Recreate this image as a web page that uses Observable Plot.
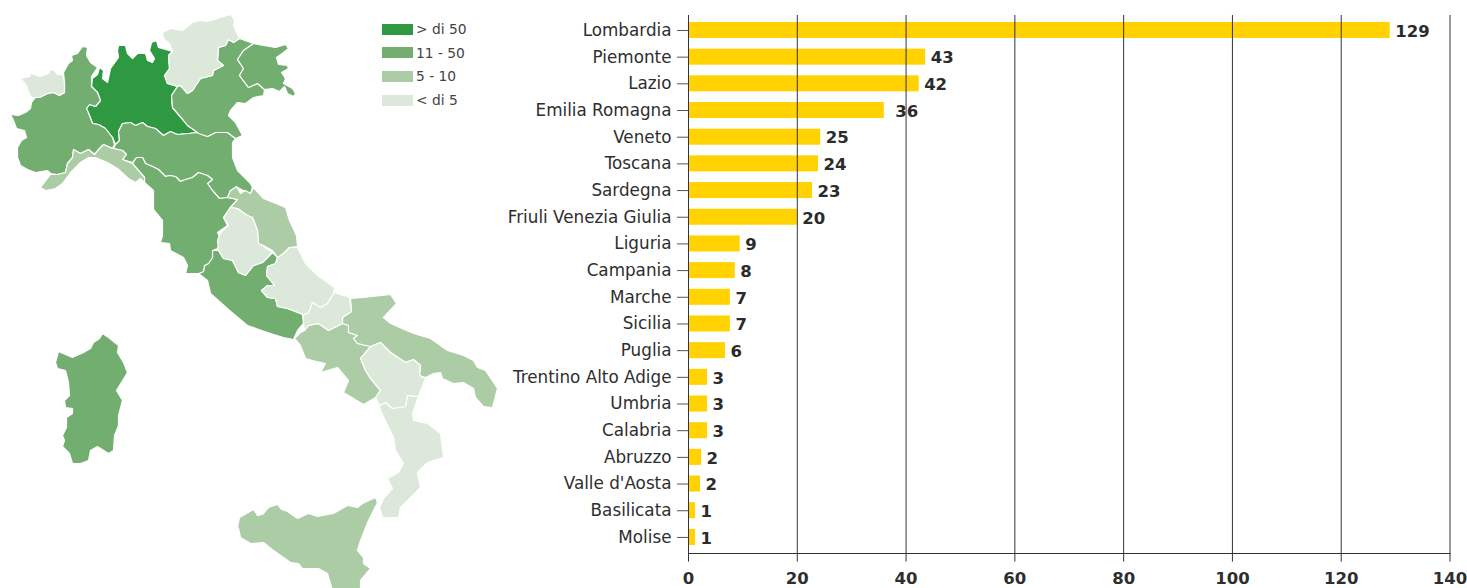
<!DOCTYPE html>
<html lang="it">
<head>
<meta charset="utf-8">
<script src="https://cdn.jsdelivr.net/npm/d3@7"></script>
<script src="https://cdn.jsdelivr.net/npm/@observablehq/plot@0.6"></script>
<style>
  html, body { margin: 0; padding: 0; background: #fff; }
  #page { position: relative; width: 1467px; height: 588px; overflow: hidden; font-family: "DejaVu Sans", sans-serif; }
  #page svg { position: absolute; left: 0; top: 0; background: transparent; }
  #legend { position: absolute; left: 382px; top: 17px; }
  .row { position: absolute; left: 0; width: 100px; height: 24px; display: flex; align-items: center; font-size: 13.8px; color: #444; white-space: nowrap; }
  .sw { width: 31px; height: 11px; margin-right: 3px; flex: none; }
</style>
</head>
<body>
<div id="page"></div>
<script>
// Printed data
const regions = ["Lombardia","Piemonte","Lazio","Emilia Romagna","Veneto","Toscana","Sardegna","Friuli Venezia Giulia","Liguria","Campania","Marche","Sicilia","Puglia","Trentino Alto Adige","Umbria","Calabria","Abruzzo","Valle d'Aosta","Basilicata","Molise"];
const printedValues = [129,43,42,36,25,24,23,20,9,8,7,7,6,3,3,3,2,2,1,1];
const barLengths = [129,43.6,42.4,36,24.3,23.9,22.8,20,9.5,8.6,7.7,7.7,6.8,3.5,3.5,3.5,2.4,2.2,1.3,1.3];
const xTicks = [0,20,40,60,80,100,120,140];
const legendLabels = ["> di 50","11 - 50","5 - 10","< di 5"];
const classBreaks = [5,11,51];
const classColors = ["#dbe8da","#72ae70","#abcca5","#2e9940"];

// Region outlines
const outlineValleAosta = [[20,78],[29,76],[31,72],[33,74],[40,76],[48,73],[50,69],[54,70],[57,74],[62,74],[64,82],[64,92],[59,95],[53,92],[47,93],[39,97],[31,97],[28,92],[26,85]];
const outlinePiemonte = [[82,46],[87,47],[86,55],[90,62],[97,67],[91,76],[91,86],[97,92],[100,100],[95,106],[89,104],[86,108],[89,115],[92,123],[98,124],[105,128],[112,137],[114,144],[112,148],[103,144],[99,148],[94,154],[88,149],[80,153],[73,149],[72,157],[67,163],[65,172],[57,174],[50,173],[47,170],[35,172],[27,169],[20,165],[17,157],[17,147],[21,140],[26,137],[24,130],[16,128],[13,120],[10,114],[18,115],[25,112],[30,108],[31,102],[35,97],[39,97],[47,93],[53,92],[59,95],[64,92],[64,82],[63,72],[68,63],[72,60],[71,55],[77,53]];
const outlineLombardia = [[118,45],[125,45],[127,53],[132,58],[137,53],[145,53],[147,60],[152,62],[154,58],[149,50],[151,42],[156,40],[158,47],[172,51],[168,55],[169,68],[164,75],[167,83],[177,86],[171,95],[172,107],[183,120],[187,125],[197,132],[188,133],[177,134],[170,131],[163,135],[155,128],[147,126],[142,122],[135,125],[130,122],[122,123],[118,131],[119,140],[115,144],[112,137],[105,128],[98,124],[92,123],[89,115],[86,108],[89,104],[95,106],[100,100],[97,92],[91,86],[92,78],[97,74],[99,67],[103,70],[102,78],[107,82],[110,68],[118,57],[117,50]];
const outlineTrentino = [[162,32],[170,28],[182,30],[192,22],[200,20],[207,21],[217,18],[230,14],[234,20],[233,25],[239,38],[233,42],[228,39],[225,45],[218,47],[217,60],[223,65],[213,70],[212,75],[200,78],[192,90],[187,93],[180,85],[177,86],[167,83],[164,75],[169,68],[168,55],[172,51],[169,43],[163,38]];
const outlineVeneto = [[239,38],[253,43],[243,50],[237,59],[243,68],[239,75],[248,87],[257,83],[264,89],[263,95],[253,97],[245,103],[237,102],[230,110],[228,115],[235,122],[242,135],[235,138],[227,132],[215,132],[207,136],[198,133],[197,132],[187,125],[183,120],[172,107],[171,95],[177,86],[180,85],[187,93],[192,90],[200,78],[212,75],[213,70],[223,65],[217,60],[218,47],[225,45],[228,39],[233,42]];
const outlineFriuli = [[253,43],[263,45],[275,47],[285,44],[288,48],[283,52],[276,57],[278,64],[287,65],[288,68],[281,72],[285,78],[283,83],[292,88],[295,93],[293,96],[287,93],[284,86],[279,91],[272,88],[264,89],[257,83],[248,87],[239,75],[243,68],[237,59],[243,50]];
const outlineEmilia = [[115,144],[119,140],[118,131],[122,123],[130,122],[135,125],[142,122],[147,126],[155,128],[163,135],[170,131],[177,134],[188,133],[197,132],[207,136],[215,132],[227,132],[235,138],[232,142],[232,157],[237,170],[250,183],[252,187],[250,193],[243,190],[237,187],[230,190],[227,197],[219,198],[212,190],[207,183],[212,179],[207,175],[198,172],[192,177],[185,179],[180,181],[175,176],[169,175],[165,176],[158,169],[152,166],[145,163],[142,157],[136,157],[132,162],[122,159],[126,154],[122,150],[113,148]];
const outlineLiguria = [[113,148],[122,150],[126,154],[122,159],[132,163],[144,177],[144,182],[140,178],[135,182],[128,178],[117,168],[107,162],[95,157],[88,157],[80,162],[70,172],[62,183],[55,188],[45,190],[40,187],[43,183],[50,174],[57,174],[65,172],[67,163],[72,157],[73,149],[80,153],[88,149],[94,154],[99,148],[103,144],[112,148]];
const outlineToscana = [[132,163],[136,157],[142,157],[145,163],[152,166],[158,169],[165,176],[169,175],[175,176],[180,181],[185,179],[192,177],[198,172],[207,175],[212,179],[207,183],[212,190],[219,198],[227,197],[237,199],[229,208],[223,217],[227,225],[217,232],[221,240],[217,248],[212,250],[212,257],[208,263],[204,265],[203,271],[198,273],[185,273],[187,265],[183,257],[170,250],[169,243],[160,242],[162,235],[162,220],[153,209],[153,190],[144,182],[144,177]];
const outlineMarche = [[227,197],[230,190],[236,186],[240,193],[245,190],[250,193],[253,187],[263,198],[285,207],[289,220],[296,235],[297,246],[289,247],[283,253],[277,257],[272,250],[263,245],[258,243],[257,230],[252,217],[247,215],[237,208],[230,207],[237,199]];
const outlineUmbria = [[230,207],[237,208],[247,215],[252,217],[257,230],[258,243],[263,246],[272,252],[262,262],[253,265],[245,275],[238,272],[232,260],[223,258],[218,250],[217,240],[220,232],[228,225],[223,217]];
const outlineLazio = [[212,250],[218,250],[223,258],[232,260],[238,272],[245,275],[253,265],[262,262],[272,252],[277,257],[275,263],[267,266],[266,275],[274,285],[267,285],[261,290],[267,297],[275,298],[277,306],[287,308],[302,314],[303,323],[297,330],[293,339],[283,337],[270,333],[247,325],[229,310],[210,293],[207,280],[198,273],[203,271],[204,265],[208,263],[212,257]];
const outlineAbruzzo = [[297,247],[305,263],[317,275],[334,287],[333,293],[327,303],[320,307],[312,302],[308,313],[303,314],[287,308],[277,306],[275,298],[267,297],[261,290],[267,285],[274,285],[266,275],[267,266],[275,263],[277,257],[283,253],[289,247]];
const outlineMolise = [[334,292],[349,297],[351,311],[342,317],[342,323],[328,330],[318,323],[308,325],[304,330],[303,323],[303,314],[308,313],[312,302],[320,307],[327,303]];
const outlinePuglia = [[350,298],[363,297],[390,294],[396,303],[383,317],[390,323],[413,333],[430,338],[447,350],[463,355],[473,360],[477,367],[485,370],[497,388],[492,407],[483,406],[475,397],[473,388],[463,382],[453,383],[442,378],[440,372],[433,373],[425,377],[419,375],[420,365],[413,359],[405,362],[390,352],[380,342],[370,346],[357,343],[353,338],[357,335],[348,332],[348,325],[342,323],[342,317],[351,311]];
const outlineCampania = [[294,338],[300,332],[304,330],[308,325],[318,323],[328,330],[342,323],[348,325],[348,332],[357,335],[353,338],[357,343],[370,346],[367,352],[360,358],[365,370],[370,378],[380,390],[375,397],[370,400],[363,404],[343,392],[348,380],[337,367],[320,372],[325,363],[312,360],[305,358],[300,345]];
const outlineBasilicata = [[380,342],[390,352],[405,362],[413,359],[420,365],[419,375],[425,378],[418,396],[407,395],[405,406],[392,408],[385,402],[379,405],[375,397],[380,390],[370,378],[365,370],[360,358],[370,346]];
const outlineCalabria = [[379,405],[385,402],[392,408],[405,406],[407,395],[418,396],[412,413],[413,420],[427,423],[440,433],[443,457],[427,462],[417,472],[420,487],[400,507],[398,517],[382,517],[379,507],[383,498],[392,488],[387,478],[398,472],[403,463],[395,450],[393,437],[380,410]];
const outlineSicilia = [[237,527],[239,517],[253,509],[257,515],[262,514],[268,507],[277,504],[281,509],[287,511],[297,518],[308,513],[317,516],[333,513],[347,505],[357,507],[362,503],[375,497],[377,502],[368,520],[360,540],[357,550],[363,557],[363,563],[370,568],[360,580],[360,590],[332,590],[327,573],[318,568],[302,568],[298,563],[290,562],[273,550],[263,542],[250,543],[240,537],[238,528]];
const outlineSardegna = [[102,333],[108,337],[118,345],[117,352],[123,362],[127,372],[116,390],[122,400],[118,415],[118,425],[114,435],[113,450],[108,453],[97,446],[90,450],[88,460],[80,463],[72,463],[69,453],[62,446],[64,440],[62,435],[66,427],[66,417],[72,413],[72,408],[65,407],[64,400],[69,395],[68,382],[65,370],[57,368],[55,362],[58,351],[72,357],[83,352],[90,348],[93,342],[99,338]];

const outlines = {
  "Lombardia": outlineLombardia, "Piemonte": outlinePiemonte, "Lazio": outlineLazio,
  "Emilia Romagna": outlineEmilia, "Veneto": outlineVeneto, "Toscana": outlineToscana,
  "Sardegna": outlineSardegna, "Friuli Venezia Giulia": outlineFriuli, "Liguria": outlineLiguria,
  "Campania": outlineCampania, "Marche": outlineMarche, "Sicilia": outlineSicilia,
  "Puglia": outlinePuglia, "Trentino Alto Adige": outlineTrentino, "Umbria": outlineUmbria,
  "Calabria": outlineCalabria, "Abruzzo": outlineAbruzzo, "Valle d'Aosta": outlineValleAosta,
  "Basilicata": outlineBasilicata, "Molise": outlineMolise
};

const table = regions.map((name, i) => ({name, value: printedValues[i], bar: barLengths[i]}));
const features = table.map(d => ({
  type: "Feature",
  properties: d,
  geometry: {type: "Polygon", coordinates: [[...outlines[d.name], outlines[d.name][0]]]}
}));

const page = document.getElementById("page");

// Bar chart
const bars = Plot.plot({
  width: 1467, height: 588,
  marginLeft: 688, marginRight: 17.5, marginTop: 15, marginBottom: 35,
  style: {fontFamily: '"DejaVu Sans", sans-serif', background: "transparent", overflow: "visible"},
  x: {domain: [0, 140], label: null},
  y: {domain: regions, range: [11.3, 555.6], padding: 0.4, align: 0.5, round: false, label: null},
  marks: [
    Plot.barX(table, {x: "bar", y: "name", fill: "#ffd200"}),
    Plot.ruleX(xTicks, {stroke: "#333", strokeWidth: 1, insetBottom: -8.6}),
    Plot.frame({anchor: "bottom", stroke: "#333", strokeWidth: 1}),
    Plot.axisY({tickSize: 11, tickPadding: 6, fontSize: 16.8, fill: "#2e2e2e", stroke: "#555", label: null}),
    Plot.axisX({ticks: xTicks, tickSize: 0, tickPadding: 19, fontSize: 16.5, fontWeight: 700, fill: "#2e2e2e", label: null}),
    Plot.text(table, {
      x: d => d.bar + (d.name === "Emilia Romagna" ? 1.1 : 0),
      y: "name", text: "value", dx: 5, dy: 1, textAnchor: "start",
      fontSize: 16.5, fontWeight: 700, fill: "#2b2b2b"
    })
  ]
});
page.appendChild(bars);

// Map
const map = Plot.plot({
  width: 510, height: 588,
  margin: 0,
  style: {background: "transparent"},
  projection: {type: "identity"},
  color: {type: "threshold", domain: classBreaks, range: [classColors[0], classColors[2], classColors[1], classColors[3]]},
  marks: [
    Plot.geo(features, {fill: d => d.properties.value, stroke: "#fff", strokeWidth: 1.2, strokeLinejoin: "round"})
  ]
});
page.appendChild(map);

// Legend
const legend = document.createElement("div");
legend.id = "legend";
const legendColors = [classColors[3], classColors[1], classColors[2], classColors[0]];
legendLabels.forEach((label, i) => {
  const row = document.createElement("div");
  row.className = "row";
  row.style.top = (i * 23.7) + "px";
  const sw = document.createElement("span");
  sw.className = "sw";
  sw.style.background = legendColors[i];
  row.appendChild(sw);
  row.appendChild(document.createTextNode(label));
  legend.appendChild(row);
});
page.appendChild(legend);
</script>
</body>
</html>
